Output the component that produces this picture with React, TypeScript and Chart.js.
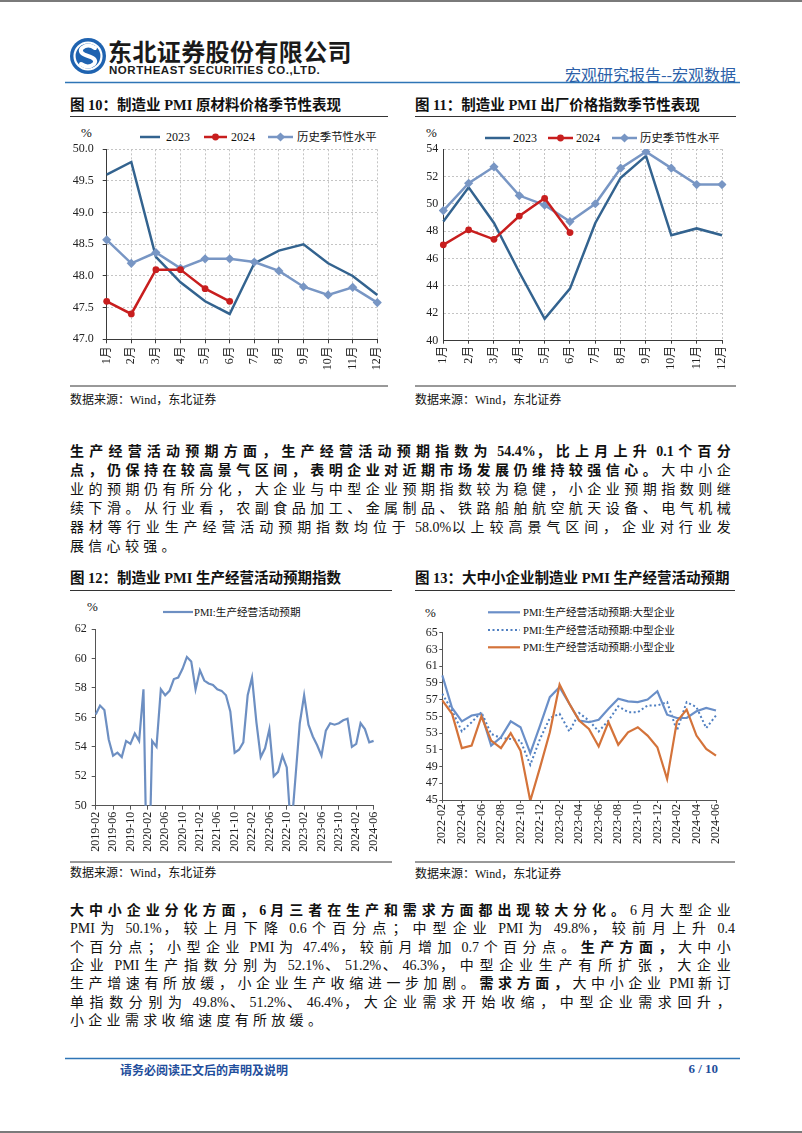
import React, { useEffect, useRef } from "react";
import { Chart, registerables } from "chart.js";
Chart.register(...registerables);

const MIX = "'Liberation Serif', 'Noto Sans CJK SC', serif";
const CJK = "'Noto Sans CJK SC', 'Liberation Sans', sans-serif";

// ---------- Chart 10 / 11 ----------
const MONTH_LABELS = ["1月", "2月", "3月", "4月", "5月", "6月", "7月", "8月", "9月", "10月", "11月", "12月"];
const RAW_2023 = [49.6, 49.8, 48.3, 47.9, 47.6, 47.4, 48.2, 48.4, 48.5, 48.2, 48.0, 47.7];
const RAW_2024 = [47.6, 47.4, 48.1, 48.1, 47.8, 47.6];
const RAW_HIST = [48.57, 48.2, 48.37, 48.12, 48.27, 48.27, 48.22, 48.08, 47.83, 47.7, 47.82, 47.58];
const OUT_2023 = [48.7, 51.2, 48.6, 45.0, 41.6, 43.8, 48.6, 51.9, 53.5, 47.7, 48.2, 47.7];
const OUT_2024 = [47.0, 48.1, 47.4, 49.1, 50.4, 47.9];
const OUT_HIST = [49.5, 51.5, 52.7, 50.6, 49.9, 48.7, 50.0, 52.6, 53.8, 52.6, 51.4, 51.4];

// ---------- Chart 12 ----------
const EXP_MONTHS = [
  "2019-02", "2019-03", "2019-04", "2019-05", "2019-06", "2019-07", "2019-08", "2019-09", "2019-10", "2019-11", "2019-12",
  "2020-01", "2020-02", "2020-03", "2020-04", "2020-05", "2020-06", "2020-07", "2020-08", "2020-09", "2020-10", "2020-11", "2020-12",
  "2021-01", "2021-02", "2021-03", "2021-04", "2021-05", "2021-06", "2021-07", "2021-08", "2021-09", "2021-10", "2021-11", "2021-12",
  "2022-01", "2022-02", "2022-03", "2022-04", "2022-05", "2022-06", "2022-07", "2022-08", "2022-09", "2022-10", "2022-11", "2022-12",
  "2023-01", "2023-02", "2023-03", "2023-04", "2023-05", "2023-06", "2023-07", "2023-08", "2023-09", "2023-10", "2023-11", "2023-12",
  "2024-01", "2024-02", "2024-03", "2024-04", "2024-05", "2024-06",
];
const EXP_INDEX = [
  56.2, 56.8, 56.5, 54.5, 53.4, 53.6, 53.3, 54.4, 54.2, 54.9, 54.4,
  57.9, 42.0, 54.4, 54.0, 57.9, 57.5, 57.8, 58.6, 58.7, 59.3, 60.1, 59.8,
  57.9, 59.2, 58.5, 58.3, 58.2, 57.9, 57.8, 57.5, 56.4, 53.6, 53.8, 54.3,
  57.5, 58.7, 55.7, 53.3, 53.9, 55.2, 52.0, 52.3, 53.4, 52.6, 48.2, 51.9,
  55.6, 57.5, 55.5, 54.7, 54.1, 53.4, 55.1, 55.6, 55.5, 55.6, 55.8, 55.9,
  54.0, 54.2, 55.6, 55.2, 54.3, 54.4,
];

// ---------- Chart 13 ----------
const SIZE_MONTHS = [
  "2022-02", "2022-03", "2022-04", "2022-05", "2022-06", "2022-07", "2022-08", "2022-09", "2022-10", "2022-11", "2022-12",
  "2023-01", "2023-02", "2023-03", "2023-04", "2023-05", "2023-06", "2023-07", "2023-08", "2023-09", "2023-10", "2023-11", "2023-12",
  "2024-01", "2024-02", "2024-03", "2024-04", "2024-05", "2024-06",
];
const LARGE = [59.9, 56.0, 54.4, 55.1, 55.3, 51.5, 52.5, 54.4, 53.7, 50.6, 53.9, 57.3, 58.5, 56.5, 54.5, 54.3, 54.6, 55.9, 57.1, 56.8, 56.7, 57.0, 58.0, 55.2, 54.8, 54.8, 55.6, 56.0, 55.7];
const MEDIUM = [57.7, 55.7, 53.2, 54.3, 55.5, 52.9, 52.4, 52.3, 52.1, 49.2, 52.3, 54.8, 55.3, 53.2, 55.4, 54.5, 53.2, 54.5, 56.2, 55.5, 55.5, 56.3, 56.3, 56.7, 53.3, 56.7, 56.1, 53.6, 55.1];
const SMALL = [56.9, 55.3, 51.2, 51.5, 55.0, 52.1, 51.2, 53.0, 50.9, 44.9, 48.9, 53.1, 58.8, 56.5, 54.5, 53.5, 51.4, 54.3, 51.6, 53.1, 53.7, 52.7, 51.3, 47.5, 54.4, 55.8, 52.7, 51.1, 50.3];

const C2023 = "#33638f";
const CRED = "#c81e1e";
const CHIST = "#7896c4";
const CEXP = "#6d8fc2";
const CLARGE = "#6a8fc8";
const CMED = "#4f7fc1";
const CSMALL = "#d4733a";

type Spec = {
  labels: string[];
  datasets: any[];
  yMin: number; yMax: number; yStep: number; yDec: number;
  width: number; height: number;
  plotLeft: number; plotTop: number; plotRight: number; plotBottom: number;
  grid: boolean; xEvery: number;
  yTickLen: number; yPad: number; xTickLen: number; xPad: number;
  fontSize: number; axisColor: string;
};

function LineChart({ spec, left, top }: { spec: Spec; left: number; top: number }) {
  const ref = useRef<HTMLCanvasElement>(null);
  useEffect(() => {
    const s = spec;
    const adj = { top: s.plotTop, right: s.width - s.plotRight, xh: s.height - s.plotBottom, yw: s.plotLeft };
    const chart = new Chart(ref.current as HTMLCanvasElement, {
      type: "line",
      data: { labels: s.labels, datasets: s.datasets },
      options: {
        responsive: false,
        animation: false,
        devicePixelRatio: 1,
        layout: { padding: { left: 0, top: adj.top, right: adj.right, bottom: 0 } },
        plugins: { legend: { display: false }, tooltip: { enabled: false }, title: { display: false } },
        elements: { line: { tension: 0 } },
        scales: {
          x: {
            type: "category",
            offset: false,
            grid: {
              display: true,
              drawOnChartArea: s.grid,
              color: "#c4c4c4",
              lineWidth: 1,
              drawTicks: s.xTickLen > 0,
              tickLength: s.xTickLen,
              tickColor: s.axisColor,
              tickWidth: 1,
            },
            border: { display: true, color: s.axisColor, width: 1, dash: s.grid ? [2, 2] : [] },
            ticks: {
              autoSkip: false,
              minRotation: 90,
              maxRotation: 90,
              padding: s.xPad,
              color: "#222",
              font: { family: MIX, size: s.fontSize },
              callback: (_v: any, i: number) => (i % s.xEvery === 0 ? s.labels[i] : null),
            },
            afterFit: (sc: any) => { sc.height = adj.xh; },
          },
          y: {
            min: s.yMin,
            max: s.yMax,
            grid: {
              display: true,
              drawOnChartArea: s.grid,
              color: "#c4c4c4",
              lineWidth: 1,
              drawTicks: s.yTickLen > 0,
              tickLength: s.yTickLen,
              tickColor: s.axisColor,
              tickWidth: 1,
            },
            border: { display: true, color: s.axisColor, width: 1, dash: s.grid ? [2, 2] : [] },
            ticks: {
              autoSkip: false,
              stepSize: s.yStep,
              padding: s.yPad,
              color: "#222",
              font: { family: MIX, size: s.fontSize },
              callback: (v: any) => Number(v).toFixed(s.yDec),
            },
            afterFit: (sc: any) => { sc.width = adj.yw; },
          },
        },
      } as any,
    });
    for (let k = 0; k < 4; k++) {
      const ca = chart.chartArea;
      const dt = s.plotTop - ca.top;
      const db = s.plotBottom - ca.bottom;
      const dl = s.plotLeft - ca.left;
      const dr = s.plotRight - ca.right;
      if (Math.abs(dt) < 0.2 && Math.abs(db) < 0.2 && Math.abs(dl) < 0.2 && Math.abs(dr) < 0.2) break;
      adj.top += dt;
      adj.xh -= db;
      adj.yw += dl;
      adj.right -= dr;
      (chart.options as any).layout.padding = { left: 0, top: adj.top, right: adj.right, bottom: 0 };
      chart.update("none");
    }
    return () => chart.destroy();
  }, []);
  return (
    <canvas
      ref={ref}
      width={spec.width}
      height={spec.height}
      style={{ position: "absolute", left, top, width: spec.width, height: spec.height }}
    />
  );
}

function Txt({ x, y, size, children, bold = false, color = "#111", family = MIX, right = false, ls = 0 }: any) {
  const lh = Math.round(size * 1.4);
  const style: any = {
    position: "absolute",
    top: y - lh / 2,
    fontSize: size,
    lineHeight: lh + "px",
    fontFamily: family,
    fontWeight: bold ? 700 : 400,
    color,
    whiteSpace: "nowrap",
    letterSpacing: ls,
  };
  if (right) style.right = 802 - x; else style.left = x;
  return <div style={style}>{children}</div>;
}

const CJK_RUN = /([\u2E80-\u9FFF\u3000-\u303F\uFF00-\uFFEF]+)/;
const PARA_LS = 4.3;

function runs(text: string, bold: boolean, key: number) {
  const parts = text.split(CJK_RUN).filter((p) => p.length > 0);
  return parts.map((p, i) => {
    const isCjk = CJK_RUN.test(p);
    return (
      <span key={key + "-" + i} style={{ fontWeight: bold ? 700 : 400, letterSpacing: isCjk ? PARA_LS : 0 }}>
        {p}
      </span>
    );
  });
}

function PLine({ y, segs, last = false }: { y: number; segs: [string, boolean][]; last?: boolean }) {
  const lh = 20;
  const style: any = {
    position: "absolute",
    left: 70,
    top: y - lh / 2,
    fontSize: 14,
    lineHeight: lh + "px",
    fontFamily: MIX,
    color: "#111",
    whiteSpace: "nowrap",
  };
  if (!last) {
    style.width = 665;
    style.textAlign = "justify";
    style.textAlignLast = "justify";
  }
  return <div style={style}>{segs.map((sg, i) => runs(sg[0], sg[1], i))}</div>;
}

const rawSpec: Spec = {
  labels: MONTH_LABELS,
  datasets: [
    { label: "2024", data: RAW_2024, borderColor: CRED, backgroundColor: CRED, borderWidth: 2.5, pointRadius: 3.4, pointStyle: "circle", pointBorderWidth: 0 },
    { label: "历史季节性水平", data: RAW_HIST, borderColor: CHIST, backgroundColor: CHIST, borderWidth: 2.5, pointRadius: 4.6, pointStyle: "rectRot", pointBorderWidth: 0 },
    { label: "2023", data: RAW_2023, borderColor: C2023, borderWidth: 2.5, pointRadius: 0 },
  ],
  yMin: 47, yMax: 50, yStep: 0.5, yDec: 1,
  width: 335, height: 255,
  plotLeft: 46.7, plotTop: 24.3, plotRight: 317.3, plotBottom: 214.3,
  grid: true, xEvery: 1,
  yTickLen: 4, yPad: 9, xTickLen: 4, xPad: 3,
  fontSize: 12, axisColor: "#3a3a3a",
};

const outSpec: Spec = {
  labels: MONTH_LABELS,
  datasets: [
    { label: "2024", data: OUT_2024, borderColor: CRED, backgroundColor: CRED, borderWidth: 2.5, pointRadius: 3.4, pointStyle: "circle", pointBorderWidth: 0 },
    { label: "历史季节性水平", data: OUT_HIST, borderColor: CHIST, backgroundColor: CHIST, borderWidth: 2.5, pointRadius: 4.6, pointStyle: "rectRot", pointBorderWidth: 0 },
    { label: "2023", data: OUT_2023, borderColor: C2023, borderWidth: 2.5, pointRadius: 0 },
  ],
  yMin: 40, yMax: 54, yStep: 2, yDec: 0,
  width: 330, height: 255,
  plotLeft: 33.3, plotTop: 24, plotRight: 312, plotBottom: 215.7,
  grid: true, xEvery: 1,
  yTickLen: 0, yPad: 5, xTickLen: 3, xPad: 2,
  fontSize: 12, axisColor: "#3a3a3a",
};

const expSpec: Spec = {
  labels: EXP_MONTHS,
  datasets: [
    { label: "PMI:生产经营活动预期", data: EXP_INDEX, borderColor: CEXP, borderWidth: 2.2, pointRadius: 0 },
  ],
  yMin: 50, yMax: 62, yStep: 2, yDec: 0,
  width: 330, height: 250,
  plotLeft: 35.7, plotTop: 24, plotRight: 317.3, plotBottom: 200.7,
  grid: false, xEvery: 4,
  yTickLen: 4, yPad: 5, xTickLen: 4, xPad: 2,
  fontSize: 12, axisColor: "#555",
};

const sizeSpec: Spec = {
  labels: SIZE_MONTHS,
  datasets: [
    { label: "PMI:生产经营活动预期:小型企业", data: SMALL, borderColor: CSMALL, borderWidth: 2.2, pointRadius: 0 },
    { label: "PMI:生产经营活动预期:大型企业", data: LARGE, borderColor: CLARGE, borderWidth: 2.2, pointRadius: 0 },
    { label: "PMI:生产经营活动预期:中型企业", data: MEDIUM, borderColor: CMED, borderWidth: 2, borderDash: [2, 2.5], pointRadius: 0 },
  ],
  yMin: 45, yMax: 65, yStep: 2, yDec: 0,
  width: 325, height: 240,
  plotLeft: 32.3, plotTop: 17.7, plotRight: 306, plotBottom: 185,
  grid: false, xEvery: 2,
  yTickLen: 3, yPad: 1.5, xTickLen: 3, xPad: 1,
  fontSize: 12, axisColor: "#555",
};

function Diamond({ cx, cy, r, color }: any) {
  return <polygon points={`${cx},${cy - r} ${cx + r},${cy} ${cx},${cy + r} ${cx - r},${cy}`} fill={color} />;
}

export default function App() {
  return (
    <div lang="zh-CN" style={{ position: "absolute", left: 0, top: 0, width: 802, height: 1133, background: "#fff", overflow: "hidden" }}>
      <svg width={802} height={1133} style={{ position: "absolute", left: 0, top: 0 }}>
        <line x1={0} y1={1} x2={802} y2={1} stroke="#7a7a7a" strokeWidth={2} />
        <line x1={0} y1={1132} x2={802} y2={1132} stroke="#7a7a7a" strokeWidth={2} />
        <circle cx={88} cy={56} r={18} fill="#1f63b0" />
        <circle cx={88} cy={56} r={13.5} fill="none" stroke="#fff" strokeWidth={2.2} />
        <path d="M 95 48 Q 88 43 82 48 Q 78 53 88 56 Q 98 59 94 64 Q 88 69 81 64" fill="none" stroke="#fff" strokeWidth={4} strokeLinecap="round" />
        <line x1={65} y1={82.5} x2={740} y2={82.5} stroke="#2e75b6" strokeWidth={1.6} />
        <line x1={70} y1={116.5} x2={388} y2={116.5} stroke="#333" strokeWidth={1} />
        <line x1={415} y1={116.5} x2={736} y2={116.5} stroke="#333" strokeWidth={1} />
        <line x1={70} y1={590.5} x2={392} y2={590.5} stroke="#333" strokeWidth={1} />
        <line x1={415} y1={590.5} x2={735} y2={590.5} stroke="#333" strokeWidth={1} />
        <line x1={70} y1={386} x2={388} y2={386} stroke="#333" strokeWidth={1} />
        <line x1={415} y1={386} x2={736} y2={386} stroke="#333" strokeWidth={1} />
        <line x1={70} y1={862} x2={392} y2={862} stroke="#333" strokeWidth={1} />
        <line x1={415} y1={862} x2={735} y2={862} stroke="#333" strokeWidth={1} />
        <line x1={65} y1={1058.5} x2={740} y2={1058.5} stroke="#2e75b6" strokeWidth={1.6} />

        <line x1={140} y1={137} x2={160} y2={137} stroke={C2023} strokeWidth={2.5} />
        <line x1={204} y1={137} x2={227} y2={137} stroke={CRED} strokeWidth={2.5} />
        <circle cx={215.5} cy={137} r={3.4} fill={CRED} />
        <line x1={268} y1={137} x2={293} y2={137} stroke={CHIST} strokeWidth={2.5} />
        <Diamond cx={280.5} cy={137} r={4.6} color={CHIST} />
        <line x1={485} y1={138} x2={510} y2={138} stroke={C2023} strokeWidth={2.5} />
        <line x1={548} y1={138} x2={573} y2={138} stroke={CRED} strokeWidth={2.5} />
        <circle cx={560.5} cy={138} r={3.4} fill={CRED} />
        <line x1={612} y1={138} x2={637} y2={138} stroke={CHIST} strokeWidth={2.5} />
        <Diamond cx={624.5} cy={138} r={4.6} color={CHIST} />
        <line x1={163} y1={612} x2={193} y2={612} stroke={CEXP} strokeWidth={2.2} />
        <line x1={488} y1={612.3} x2={520} y2={612.3} stroke={CLARGE} strokeWidth={2.2} />
        <line x1={488} y1={630} x2={520} y2={630} stroke={CMED} strokeWidth={2} strokeDasharray="2 2.5" />
        <line x1={488} y1={647.3} x2={520} y2={647.3} stroke={CSMALL} strokeWidth={2.2} />
      </svg>

      <Txt x={108} y={51} size={24} bold family={CJK} color="#1a1a1a" ls={0.4}>东北证券股份有限公司</Txt>
      <Txt x={109} y={70} size={11.5} bold family="'Liberation Sans', Arial, sans-serif" color="#1a1a1a" ls={0.55}>NORTHEAST SECURITIES CO.,LTD.</Txt>
      <Txt x={736} y={74} size={16} right family={CJK} color="#2c5fa8">宏观研究报告--宏观数据</Txt>

      <Txt x={70} y={105} size={14.5} bold>图 10：制造业 PMI 原材料价格季节性表现</Txt>
      <Txt x={415} y={105} size={14.5} bold>图 11：制造业 PMI 出厂价格指数季节性表现</Txt>
      <Txt x={70} y={578} size={14.5} bold>图 12：制造业 PMI 生产经营活动预期指数</Txt>
      <Txt x={415} y={578} size={14.5} bold>图 13：大中小企业制造业 PMI 生产经营活动预期</Txt>

      <Txt x={81} y={133} size={13}>%</Txt>
      <Txt x={426} y={133} size={13}>%</Txt>
      <Txt x={87} y={607} size={13}>%</Txt>
      <Txt x={425} y={613} size={13}>%</Txt>

      <Txt x={166} y={137} size={12}>2023</Txt>
      <Txt x={231} y={137} size={12}>2024</Txt>
      <Txt x={297} y={137} size={11.4}>历史季节性水平</Txt>
      <Txt x={513} y={138} size={12}>2023</Txt>
      <Txt x={576} y={138} size={12}>2024</Txt>
      <Txt x={640} y={138} size={11.4}>历史季节性水平</Txt>
      <Txt x={194} y={612} size={10.6}>PMI:生产经营活动预期</Txt>
      <Txt x={523} y={612.3} size={10.6}>PMI:生产经营活动预期:大型企业</Txt>
      <Txt x={523} y={630} size={10.6}>PMI:生产经营活动预期:中型企业</Txt>
      <Txt x={523} y={647.3} size={10.6}>PMI:生产经营活动预期:小型企业</Txt>

      <LineChart spec={rawSpec} left={60} top={125} />
      <LineChart spec={outSpec} left={410} top={125} />
      <LineChart spec={expSpec} left={60} top={605} />
      <LineChart spec={sizeSpec} left={410} top={615} />

      <Txt x={70} y={400} size={12}>数据来源：Wind，东北证券</Txt>
      <Txt x={415} y={400} size={12}>数据来源：Wind，东北证券</Txt>
      <Txt x={70} y={873} size={12}>数据来源：Wind，东北证券</Txt>
      <Txt x={415} y={874} size={12}>数据来源：Wind，东北证券</Txt>

      <PLine y={452} segs={[["生产经营活动预期方面，生产经营活动预期指数为 54.4%，比上月上升 0.1 个百分", true]]} />
      <PLine y={471} segs={[["点，仍保持在较高景气区间，表明企业对近期市场发展仍维持较强信心。", true], ["大中小企", false]]} />
      <PLine y={490} segs={[["业的预期仍有所分化，大企业与中型企业预期指数较为稳健，小企业预期指数则继", false]]} />
      <PLine y={509} segs={[["续下滑。从行业看，农副食品加工、金属制品、铁路船舶航空航天设备、电气机械", false]]} />
      <PLine y={528} segs={[["器材等行业生产经营活动预期指数均位于 58.0%以上较高景气区间，企业对行业发", false]]} />
      <PLine y={547} last segs={[["展信心较强。", false]]} />

      <PLine y={911} segs={[["大中小企业分化方面，6 月三者在生产和需求方面都出现较大分化。", true], ["6 月大型企业", false]]} />
      <PLine y={929.3} segs={[["PMI 为 50.1%，较上月下降 0.6 个百分点；中型企业 PMI 为 49.8%，较前月上升 0.4", false]]} />
      <PLine y={947.7} segs={[["个百分点；小型企业 PMI 为 47.4%，较前月增加 0.7 个百分点。", false], ["生产方面，", true], ["大中小", false]]} />
      <PLine y={966} segs={[["企业 PMI 生产指数分别为 52.1%、51.2%、46.3%，中型企业生产有所扩张，大企业", false]]} />
      <PLine y={984.3} segs={[["生产增速有所放缓，小企业生产收缩进一步加剧。", false], ["需求方面，", true], ["大中小企业 PMI 新订", false]]} />
      <PLine y={1002.7} segs={[["单指数分别为 49.8%、51.2%、46.4%，大企业需求开始收缩，中型企业需求回升，", false]]} />
      <PLine y={1021} last segs={[["小企业需求收缩速度有所放缓。", false]]} />

      <Txt x={120} y={1069} size={12} bold family={CJK} color="#1f4e9c">请务必阅读正文后的声明及说明</Txt>
      <Txt x={718} y={1069} size={13} bold right color="#1f4e9c">6 / 10</Txt>
    </div>
  );
}
